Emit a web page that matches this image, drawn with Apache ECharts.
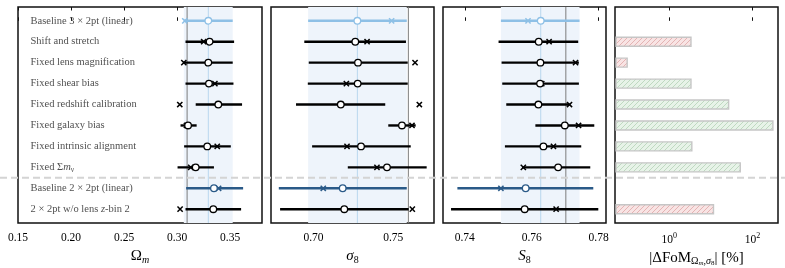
<!DOCTYPE html>
<html><head><meta charset="utf-8">
<script src="https://cdn.jsdelivr.net/npm/echarts@6/dist/echarts.min.js"></script>
<style>html,body{margin:0;padding:0;background:#fff}#c{width:785px;height:268px}</style>
</head><body><div id="c"></div>
<script>
// ---------------- data ----------------
const rowLabels = [
  'Baseline 3 × 2pt (linear)',
  'Shift and stretch',
  'Fixed lens magnification',
  'Fixed shear bias',
  'Fixed redshift calibration',
  'Fixed galaxy bias',
  'Fixed intrinsic alignment',
  'Fixed Σ{it|m}{sub|ν}',
  'Baseline 2 × 2pt (linear)',
  '2 × 2pt w/o lens {it|z}-bin 2'
];
// Omega_m
const omLo    = [0.3063,0.3079,0.3056,0.3079,0.3175,0.3032,0.3066,0.3004,0.3085,0.3079];
const omHi    = [0.3524,0.3537,0.3524,0.3531,0.3612,0.3184,0.3506,0.3347,0.3622,0.3603];
const omMean  = [0.3294,0.3306,0.3294,0.3300,0.3388,0.3103,0.3284,0.3175,0.3347,0.3341];
const omCross = [0.3072,0.3250,0.3063,0.3356,0.3025,0.3088,0.3378,0.3128,0.3391,0.3028];
// sigma_8
const sgLo    = [0.6966,0.6942,0.6970,0.6964,0.6890,0.7469,0.6991,0.7215,0.6782,0.6790];
const sgHi    = [0.7585,0.7580,0.7591,0.7591,0.7450,0.7641,0.7610,0.7710,0.7585,0.7597];
const sgMean  = [0.7275,0.7262,0.7279,0.7277,0.7171,0.7555,0.7298,0.7461,0.7183,0.7193];
const sgCross = [0.7490,0.7336,0.7637,0.7206,0.7664,0.7618,0.7210,0.7398,0.7061,0.7620];
// S_8
const s8Lo    = [0.7508,0.7501,0.7510,0.7512,0.7524,0.7611,0.7520,0.7571,0.7378,0.7359];
const s8Hi    = [0.7743,0.7739,0.7741,0.7741,0.7713,0.7787,0.7748,0.7775,0.7784,0.7799];
const s8Mean  = [0.7627,0.7621,0.7626,0.7625,0.7620,0.7699,0.7635,0.7679,0.7582,0.7579];
const s8Cross = [0.7589,0.7652,0.7731,0.7630,0.7713,0.7740,0.7665,0.7575,0.7508,0.7673];
// fiducial (grey vertical lines)
const fiducial = [0.3094, 0.7595, 0.7702];
// |Delta FoM| [%] ; sign: -1 decrease (red), +1 increase (green), 0 none
const dFoM     = [null, 3.34, 0.098, 3.34, 26.8, 310, 3.5, 51, null, 11.6];
const dFoMSign = [0, -1, -1, 1, 1, 1, 1, 1, 0, -1];
// axes ticks
const omTicks = [0.15, 0.20, 0.25, 0.30, 0.35];
const sgTicks = [0.70, 0.75];
const s8Ticks = [0.74, 0.76, 0.78];
const fomTicks = [1, 100];

// ---------------- styling ----------------
const FONT = 'Liberation Serif';
const LIGHT = '#8ec0e6', DARK = '#2a5a88', BLACK = '#000';
function rowColor(i){ return i === 0 ? LIGHT : (i === 8 ? DARK : BLACK); }
const Y_MIN = -0.66, Y_MAX = 9.66;

function hatch(bg, fg){
  const c = document.createElement('canvas'); c.width = 5; c.height = 5;
  const g = c.getContext('2d');
  g.fillStyle = bg; g.fillRect(0,0,5,5);
  g.strokeStyle = fg; g.lineWidth = 1;
  g.beginPath();
  g.moveTo(0,5); g.lineTo(5,0);
  g.moveTo(-1,1); g.lineTo(1,-1);
  g.moveTo(4,6); g.lineTo(6,4);
  g.stroke();
  return c;
}
const pinkPat  = {image: hatch('#f8e4e4', '#e4b3b3'), repeat: 'repeat'};
const greenPat = {image: hatch('#e7f3e8', '#bfd9c1'), repeat: 'repeat'};

const grids = [
  {left: 18,  top: 7, width: 244, height: 216},
  {left: 271, top: 7, width: 163, height: 216},
  {left: 443, top: 7, width: 163, height: 216},
  {left: 615, top: 7, width: 163, height: 216}
].map(g => Object.assign(g, {show: true, borderColor: '#111', borderWidth: 1.5, backgroundColor: 'transparent',
  containLabel: false, outerBoundsMode: 'none'}));

const nameRich = {
  i:   {fontFamily: FONT, fontSize: 15, fontStyle: 'italic', color: '#000'},
  sub: {fontFamily: FONT, fontSize: 10, padding: [7,0,0,0], color: '#000'},
  subi:{fontFamily: FONT, fontSize: 10, fontStyle: 'italic', padding: [7,0,0,0], color: '#000'},
  ss:  {fontFamily: FONT, fontSize: 7, padding: [11,0,0,0], color: '#000'},
  ssi: {fontFamily: FONT, fontSize: 7, fontStyle: 'italic', padding: [11,0,0,0], color: '#000'}
};
const ranges = [[0.15, 0.38], [0.6733, 0.7756], [0.7335, 0.7822], [0.05, 411]];
const ticks = [omTicks, sgTicks, s8Ticks, fomTicks];
const names = ['Ω{subi|m}', '{i|σ}{sub|8}', '{i|S}{sub|8}', '|ΔFoM{sub|Ω}{ssi|m}{sub|,}{subi|σ}{ss|8}| [%]'];

const xAxes = [];
for (let k = 0; k < 4; k++) {
  const type = k === 3 ? 'log' : 'value';
  const base = {
    gridIndex: k, type, min: ranges[k][0], max: ranges[k][1],
    splitLine: {show: false}, axisLine: {show: false},
    axisTick: {show: true, inside: true, length: 3.5, customValues: ticks[k], lineStyle: {color: '#111', width: 1}},
  };
  if (type === 'log') base.logBase = 10;
  xAxes.push(Object.assign({}, base, {
    position: 'bottom',
    axisLabel: {show: true, customValues: ticks[k], margin: 9, fontFamily: FONT, fontSize: 11.5, color: '#000',
      formatter: k === 3 ? (v => '10{sup|' + Math.round(Math.log10(v)) + '}') : (v => v.toFixed(2)),
      rich: {sup: {fontFamily: FONT, fontSize: 8, padding: [0,0,7,0], color: '#000'}}},
    name: names[k], nameLocation: 'middle', nameGap: 15,
    nameTextStyle: {fontFamily: FONT, fontSize: 15, color: '#000', rich: nameRich}
  }));
  xAxes.push(Object.assign({}, base, {position: 'top', axisLabel: {show: false}}));
}
const yAxes = [0,1,2,3].map(k => ({gridIndex: k, type: 'value', min: Y_MIN, max: Y_MAX, inverse: true, show: false}));

function errSeries(k, lo, hi, mean, cross){
  const data = rowLabels.map((_, i) => [lo[i], i, hi[i], mean[i], cross[i]]);
  return {
    type: 'custom', xAxisIndex: 2*k, yAxisIndex: k, z: 5, clip: false,
    encode: {x: [0,2,3,4], y: 1},
    data,
    renderItem(params, api){
      const i = api.value(1);
      const col = rowColor(i);
      const pl = api.coord([api.value(0), i]);
      const ph = api.coord([api.value(2), i]);
      const pm = api.coord([api.value(3), i]);
      const pc = api.coord([api.value(4), i]);
      const y = pl[1], s = 2.6;
      return {type: 'group', children: [
        {type: 'line', shape: {x1: pl[0], y1: y, x2: ph[0], y2: y}, style: {stroke: col, lineWidth: 2.4}},
        {type: 'line', shape: {x1: pc[0]-s, y1: y-s, x2: pc[0]+s, y2: y+s}, style: {stroke: col, lineWidth: 1.5}},
        {type: 'line', shape: {x1: pc[0]-s, y1: y+s, x2: pc[0]+s, y2: y-s}, style: {stroke: col, lineWidth: 1.5}},
        {type: 'circle', shape: {cx: pm[0], cy: y, r: 3.3}, style: {fill: '#fff', stroke: col, lineWidth: 1.3}}
      ]};
    }
  };
}
function bandSeries(k, lo, hi, mean, fid){
  return {
    type: 'custom', xAxisIndex: 2*k, yAxisIndex: k, z: 1, silent: true,
    data: [[lo[0], hi[0], mean[0], fid]],
    encode: {x: [0,1,2,3]},
    renderItem(params, api){
      const cs = params.coordSys;
      const xl = api.coord([api.value(0), 0])[0];
      const xh = api.coord([api.value(1), 0])[0];
      const xm = api.coord([api.value(2), 0])[0];
      const xf = api.coord([api.value(3), 0])[0];
      return {type: 'group', children: [
        {type: 'rect', shape: {x: xl, y: cs.y, width: xh - xl, height: cs.height}, style: {fill: '#eef4fb'}},
        {type: 'line', shape: {x1: xm, y1: cs.y, x2: xm, y2: cs.y + cs.height}, style: {stroke: '#b9d7ee', lineWidth: 1}},
        {type: 'line', shape: {x1: xf, y1: cs.y, x2: xf, y2: cs.y + cs.height}, style: {stroke: '#7d7d7d', lineWidth: 1}}
      ]};
    }
  };
}

const labelSeries = {
  type: 'scatter', xAxisIndex: 0, yAxisIndex: 0, z: 6, silent: true,
  symbolSize: 1, itemStyle: {color: 'rgba(0,0,0,0)'},
  data: rowLabels.map((t, i) => ({value: [ranges[0][0], i], name: t})),
  label: {show: true, position: 'right', distance: 12, formatter: p => p.name,
    fontFamily: FONT, fontSize: 10.5, color: '#222',
    rich: {it: {fontFamily: FONT, fontSize: 10.5, fontStyle: 'italic', color: '#222'},
           sub: {fontFamily: FONT, fontSize: 7.5, padding: [5,0,0,0], color: '#222'}}}
};

const barSeries = {
  type: 'custom', xAxisIndex: 6, yAxisIndex: 3, z: 5,
  data: dFoM.map((v, i) => [v, i, dFoMSign[i]]).filter(d => d[0] != null),
  encode: {x: 0, y: 1},
  renderItem(params, api){
    const cs = params.coordSys;
    const p = api.coord([api.value(0), api.value(1)]);
    const h = 9;
    return {type: 'rect', shape: {x: cs.x + 1, y: p[1] - h/2, width: p[0] - cs.x - 1, height: h},
      style: {fill: api.value(2) < 0 ? pinkPat : greenPat, stroke: '#c6c6c6', lineWidth: 1.4}};
  }
};

const chart = echarts.init(document.getElementById('c'), null, {renderer: 'canvas'});
chart.setOption({
  animation: false,
  backgroundColor: '#fff',
  grid: grids,
  xAxis: xAxes,
  yAxis: yAxes,
  series: [
    bandSeries(0, omLo, omHi, omMean, fiducial[0]),
    bandSeries(1, sgLo, sgHi, sgMean, fiducial[1]),
    bandSeries(2, s8Lo, s8Hi, s8Mean, fiducial[2]),
    errSeries(0, omLo, omHi, omMean, omCross),
    errSeries(1, sgLo, sgHi, sgMean, sgCross),
    errSeries(2, s8Lo, s8Hi, s8Mean, s8Cross),
    barSeries,
    labelSeries
  ]
});
// dashed separator between 3x2pt and 2x2pt blocks (row 7.5)
const ySep = chart.convertToPixel({xAxisIndex: 0, yAxisIndex: 0}, [0.2, 7.5])[1];
chart.setOption({graphic: [{type: 'line', z: 10, silent: true,
  shape: {x1: 0, y1: ySep, x2: 785, y2: ySep},
  style: {stroke: '#d4d4d4', lineWidth: 2, lineDash: [7, 4]}}]});
</script>
</body></html>
